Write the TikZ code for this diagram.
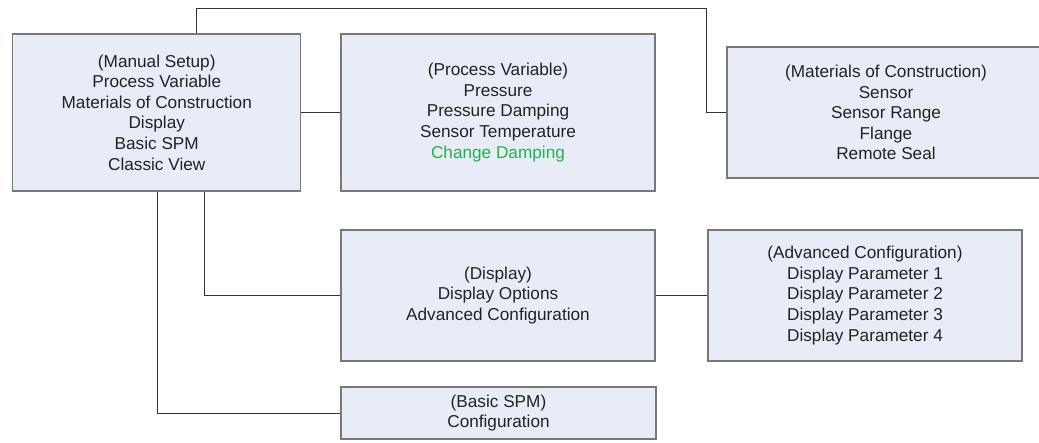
\documentclass[tikz,border=0pt]{standalone}
\usepackage{fontspec}
\setmainfont{Liberation Sans}
\definecolor{boxfill}{RGB}{232,236,246}
\definecolor{boxline}{RGB}{120,120,120}
\definecolor{txt}{RGB}{34,34,34}
\definecolor{verde}{RGB}{34,177,76}
\tikzset{
  menu/.style={draw=boxline, line width=1.1pt, fill=boxfill, text=txt,
    align=center, inner sep=0pt,
    font=\fontsize{17.2}{20.6}\selectfont},
  conn/.style={draw=black!80, line width=0.8pt}
}
\begin{document}
\begin{tikzpicture}[x=1pt,y=-1pt]
    \useasboundingbox (0,0) rectangle (1039,443);

    % Disegna i menu
    \node[menu, minimum width=288pt, minimum height=157pt] (setup) at (156.75,112.5)
      {(Manual Setup)\\Process Variable\\Materials of Construction\\Display\\Basic SPM\\Classic View};
    \node[menu, minimum width=314pt, minimum height=157pt] (pv) at (498,112.5)
      {(Process Variable)\\Pressure\\Pressure Damping\\Sensor Temperature\\\textcolor{verde}{Change Damping}};
    \node[menu, minimum width=318pt, minimum height=131pt] (moc) at (886,112.5)
      {(Materials of Construction)\\Sensor\\Sensor Range\\Flange\\Remote Seal};
    \node[menu, minimum width=314pt, minimum height=131pt] (disp) at (498,295.5)
      {(Display)\\Display Options\\Advanced Configuration};
    \node[menu, minimum width=314pt, minimum height=131pt] (adv) at (865,295.5)
      {(Advanced Configuration)\\Display Parameter 1\\Display Parameter 2\\Display Parameter 3\\Display Parameter 4};
    \node[menu, minimum width=315pt, minimum height=52pt] (bspm) at (498.5,413)
      {(Basic SPM)\\Configuration};

    % Punti di appoggio
    \coordinate (top) at (196,8);
    \coordinate (drop) at (706,112.5);
    \coordinate (d) at (204,0);
    \coordinate (b) at (157,0);

    % Collegamenti
    \draw[conn] (setup.east) -- (pv.west);
    \draw[conn] (setup.north -| top) -- (top) -| (drop) -- (moc.west);
    \draw[conn] (setup.south -| d) |- (disp.west);
    \draw[conn] (setup.south -| b) |- (bspm.west);
    \draw[conn] (disp.east) -- (adv.west);
\end{tikzpicture}
\end{document}
